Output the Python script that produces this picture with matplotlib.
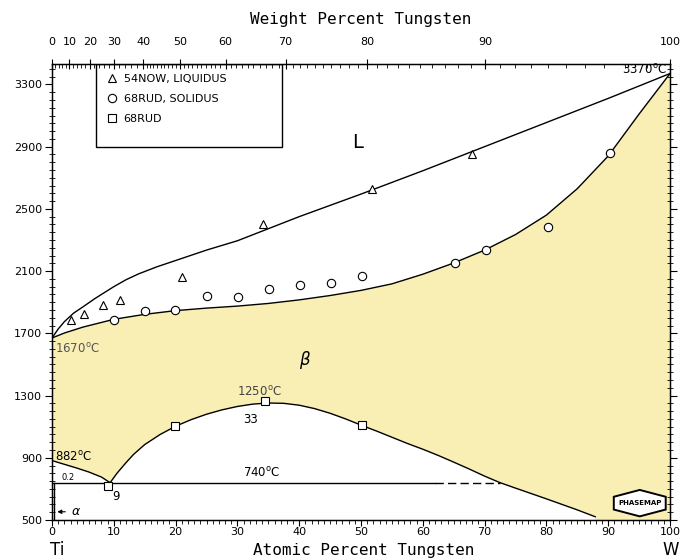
import numpy as np
import matplotlib.pyplot as plt
from matplotlib.patches import Polygon, Rectangle
from matplotlib.ticker import MultipleLocator, FixedLocator

# Ti-W phase diagram (atomic % W vs temperature, deg C)

# liquidus
liq_x = [0, 1, 2, 3.5, 5, 7, 10, 12, 14, 17, 20, 25, 30, 40, 50, 60, 70, 80,
         90, 100]
liq_t = [1670, 1728, 1775, 1830, 1870, 1925, 2000, 2045, 2082, 2128, 2168,
         2235, 2295, 2450, 2595, 2745, 2900, 3055, 3210, 3370]

# solidus
sol_x = [0, 2, 5, 10, 15, 20, 25, 30, 35, 40, 45, 50, 55, 60, 65, 70, 75, 80,
         85, 90, 95, 100]
sol_t = [1670, 1702, 1740, 1790, 1822, 1846, 1862, 1875, 1892, 1915, 1943,
         1976, 2018, 2080, 2152, 2235, 2335, 2460, 2630, 2840, 3110, 3370]

# (beta-Ti) transus down to the monotectoid
tr_x = [0, 2, 4, 6, 8, 9.4]
tr_t = [882, 858, 834, 808, 776, 740]

# miscibility gap dome in (beta)
gap_x = [9.4, 10.5, 12, 13.2, 15, 17.5, 20, 22.5, 25, 27.5, 30, 32.5, 35,
         37.5, 40, 42.5, 45, 47.5, 50, 52.5, 55, 57.5, 60, 62.5, 65, 67.5, 70,
         72.5, 75, 80, 85, 87.9, 87.9]
gap_t = [740, 800, 870, 922, 985, 1050, 1103, 1145, 1180, 1208, 1230, 1245,
         1252, 1250, 1238, 1216, 1186, 1150, 1110, 1072, 1032, 992, 955, 915,
         872, 828, 782, 740, 705, 636, 565, 521, 500]

# experimental points
now_liq_x = [3.0, 5.2, 8.2, 11.0, 21.1, 34.2, 51.8, 68.0]
now_liq_t = [1784, 1827, 1882, 1912, 2062, 2405, 2625, 2854]
rud_sol_x = [10.0, 15.0, 19.9, 25.0, 30.1, 35.1, 40.1, 45.1, 50.2, 65.2, 70.3,
             80.3, 90.3]
rud_sol_t = [1788, 1844, 1848, 1938, 1932, 1988, 2009, 2023, 2068, 2154, 2233,
             2383, 2858]
rud_x = [9.0, 19.9, 34.5, 50.1]
rud_t = [720, 1103, 1268, 1110]

monotectoid_t = 740
wt_ticks = [0, 10, 20, 30, 40, 50, 60, 70, 80, 90, 100]

fill_col = '#f9efb4'


def wt_to_at(w):
    w = np.asarray(w, dtype=float)
    a = w / 183.84
    b = (100 - w) / 47.867
    return 100 * a / (a + b)


fig = plt.figure(figsize=(6.81, 5.60), dpi=100)
ax = fig.add_axes([0.0764, 0.0714, 0.9075, 0.814])
ax.set_xlim(0, 100)
ax.set_ylim(500, 3430)

# beta single-phase field
px = list(sol_x) + [100] + gap_x[::-1] + tr_x[::-1]
pt = list(sol_t) + [500] + gap_t[::-1] + tr_t[::-1]
ax.fill(px, pt, color=fill_col, lw=0, zorder=1)

lk = dict(color='black', lw=1.0, zorder=3)
ax.plot(liq_x, liq_t, **lk)
ax.plot(sol_x, sol_t, **lk)
ax.plot(tr_x, tr_t, **lk)
ax.plot(gap_x[:-1], gap_t[:-1], **lk)

# monotectoid line, broken near its right end
ax.plot([0, 62], [monotectoid_t] * 2, **lk)
ax.plot([62, gap_x[27]], [monotectoid_t] * 2, color='black', lw=1.0,
        dashes=(6, 3), zorder=3)
ax.plot([0.3, 0.3], [500, monotectoid_t], color='black', lw=1.0, zorder=3)

mk = dict(ls='none', mfc='white', mec='black', mew=0.8, zorder=4)
h1, = ax.plot(now_liq_x, now_liq_t, marker='^', ms=5.5, **mk)
h2, = ax.plot(rud_sol_x, rud_sol_t, marker='o', ms=6, **mk)
h3, = ax.plot(rud_x, rud_t, marker='s', ms=6, **mk)

# legend in a box that hangs from the top frame
ax.add_patch(Rectangle((0.071, 0.818), 0.301, 0.182, transform=ax.transAxes,
                       fill=False, ec='black', lw=1.0, zorder=5))
leg = ax.legend([h1, h2, h3], ['54NOW, LIQUIDUS', '68RUD, SOLIDUS', '68RUD'],
                loc='upper left', bbox_to_anchor=(0.072, 1.0),
                frameon=False, fontsize=8, handlelength=1.0,
                handletextpad=0.6, labelspacing=0.9, borderpad=0.35)

# labels on the diagram
tk = dict(fontsize=8.5, zorder=6)
ax.text(49.5, 2927, 'L', fontsize=14, ha='center', va='center')
ax.text(40.9, 1527, r'$\beta$', fontsize=12, ha='center', va='center')
ax.text(0.4, 1603, r'1670$^\mathrm{o}$C', ha='left', va='center',
        color='#555555', **tk)
ax.text(0.4, 905, r'882$^\mathrm{o}$C', ha='left', va='center', **tk)
ax.text(33.5, 1322, r'1250$^\mathrm{o}$C', ha='center', va='center',
        color='#444444', **tk)
ax.text(32.2, 1148, '33', ha='center', va='center', **tk)
ax.text(34, 800, r'740$^\mathrm{o}$C', ha='center', va='center', **tk)
ax.text(10.4, 654, '9', ha='center', va='center', **tk)
ax.text(99.5, 3395, r'3370$^\mathrm{o}$C', ha='right', va='center', **tk)
ax.text(1.5, 776, '0.2', fontsize=6, ha='left', va='center')
ax.annotate('', xy=(0.4, 553), xytext=(2.6, 553),
            arrowprops=dict(arrowstyle='-|>', lw=0.8, color='black',
                            mutation_scale=6))
ax.text(3.9, 553, r'$\alpha$', fontsize=9, ha='center', va='center')

# PHASEMAP badge
cx, cy, w, h1y, h2y = 0.951, 0.037, 0.042, 0.014, 0.029
hexa = [(cx - w, cy + h1y), (cx, cy + h2y), (cx + w, cy + h1y),
        (cx + w, cy - h1y), (cx, cy - h2y), (cx - w, cy - h1y)]
ax.add_patch(Polygon(hexa, closed=True, transform=ax.transAxes, fc='white',
                     ec='black', lw=1.4, zorder=6))
ax.text(cx, cy, 'PHASEMAP', transform=ax.transAxes, fontsize=5,
        fontweight='bold', ha='center', va='center', zorder=7)

# bottom / left axes
ax.xaxis.set_major_locator(MultipleLocator(10))
ax.xaxis.set_minor_locator(MultipleLocator(1))
ax.yaxis.set_major_locator(FixedLocator(np.arange(500, 3301, 400)))
ax.yaxis.set_minor_locator(MultipleLocator(50))
ax.tick_params(axis='x', which='major', direction='out', length=4,
               labelsize=8, pad=1)
ax.tick_params(axis='x', which='minor', direction='out', length=3)
ax.tick_params(axis='y', which='major', direction='out', length=5,
               labelsize=8, right=True, pad=2)
ax.tick_params(axis='y', which='minor', direction='inout', length=4,
               right=True)
for s in ax.spines.values():
    s.set_linewidth(1.0)

mono = 'DejaVu Sans Mono'
fig.text(0.084, 0.017, 'Ti', fontsize=12, ha='center', va='center')
fig.text(0.985, 0.017, 'W', fontsize=12, ha='center', va='center')
fig.text(0.534, 0.017, 'Atomic Percent Tungsten', family=mono, fontsize=11.5,
         ha='center', va='center')

# weight percent scale on top
top = ax.twiny()
top.set_xlim(0, 100)
top.xaxis.set_major_locator(FixedLocator(wt_to_at(wt_ticks)))
top.set_xticklabels([str(v) for v in wt_ticks])
minor_wt = [v for v in range(0, 40, 2)] + list(range(40, 101))
top.xaxis.set_minor_locator(FixedLocator(wt_to_at(minor_wt)))
top.tick_params(axis='x', which='major', direction='inout', length=7,
                labelsize=8, pad=9)
top.tick_params(axis='x', which='minor', direction='in', length=3)
top.set_xlabel('Weight Percent Tungsten', family=mono, fontsize=11.5,
               labelpad=9)

fig.savefig('out.png', dpi=100)
